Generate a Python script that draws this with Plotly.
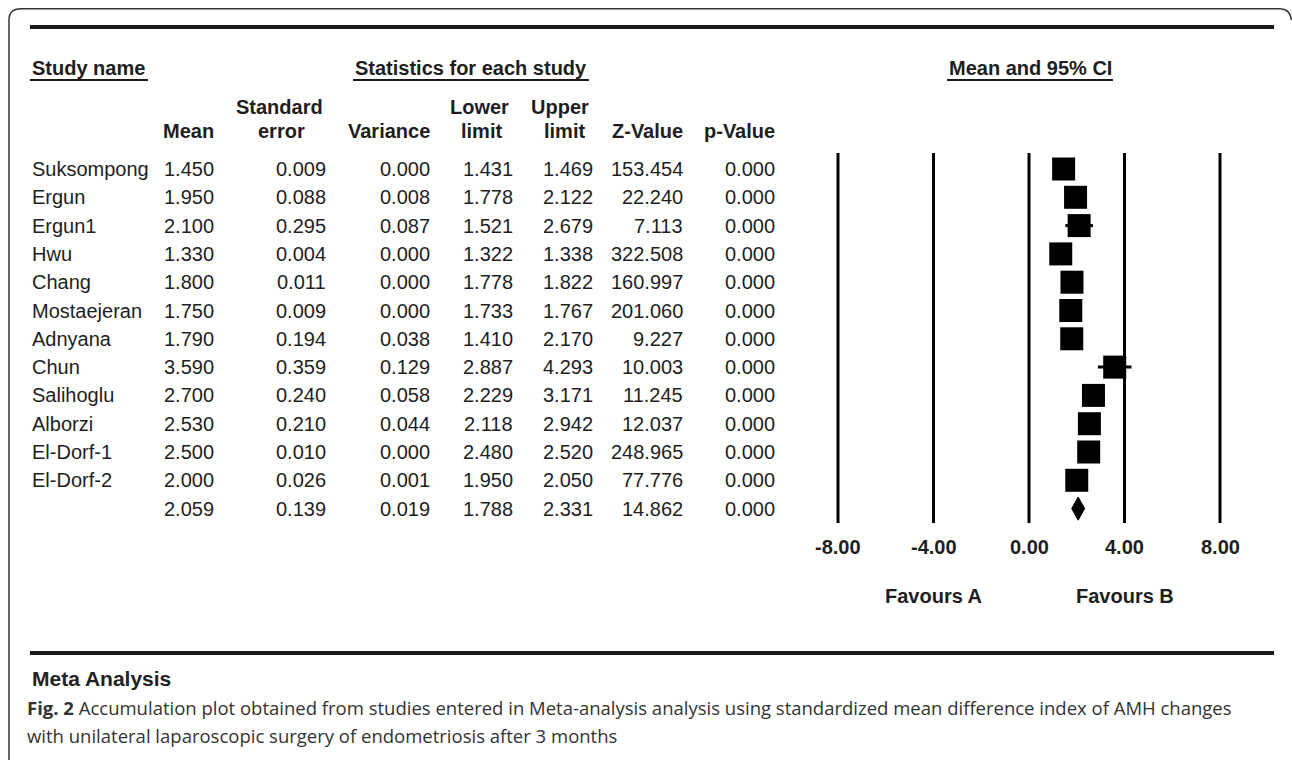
import plotly.graph_objects as go

# ---------------- data ----------------
studies = ["Suksompong", "Ergun", "Ergun1", "Hwu", "Chang", "Mostaejeran", "Adnyana",
           "Chun", "Salihoglu", "Alborzi", "El-Dorf-1", "El-Dorf-2"]
mean = [1.450, 1.950, 2.100, 1.330, 1.800, 1.750, 1.790, 3.590, 2.700, 2.530, 2.500, 2.000]
std_err = [0.009, 0.088, 0.295, 0.004, 0.011, 0.009, 0.194, 0.359, 0.240, 0.210, 0.010, 0.026]
variance = [0.000, 0.008, 0.087, 0.000, 0.000, 0.000, 0.038, 0.129, 0.058, 0.044, 0.000, 0.001]
lower = [1.431, 1.778, 1.521, 1.322, 1.778, 1.733, 1.410, 2.887, 2.229, 2.118, 2.480, 1.950]
upper = [1.469, 2.122, 2.679, 1.338, 1.822, 1.767, 2.170, 4.293, 3.171, 2.942, 2.520, 2.050]
z_value = [153.454, 22.240, 7.113, 322.508, 160.997, 201.060, 9.227, 10.003, 11.245,
           12.037, 248.965, 77.776]
p_value = [0.000] * 12

summary = {"mean": 2.059, "se": 0.139, "var": 0.019, "lower": 1.788, "upper": 2.331,
           "z": 14.862, "p": 0.000}

tick_vals = [-8, -4, 0, 4, 8]
tick_text = ["-8.00", "-4.00", "0.00", "4.00", "8.00"]
favours = [("Favours A", -4), ("Favours B", 4)]

# ---------------- geometry helpers (page pixel coordinates) ----------------
OX, OY = 0, 0                      # body margin removed below
W, H = 1292, 760
X0PX, XSCALE = 1029.0, 23.875      # page pixel of value 0, pixels per unit
Y0PX, YSTEP = 169.0, 28.3          # page pixel of row 0, pixels per row


def PX(x):
    return (x - OX) / W


def PY(y):
    return 1 - (y - OY) / H


def row_of(ypx):
    return (ypx - Y0PX) / YSTEP


ARIAL = "Arial, Liberation Sans, sans-serif"
TXT = "#1e1e1e"

fig = go.Figure()

n = len(studies)
rows = list(range(n))

# error bars (CI) + squares
fig.add_trace(go.Scatter(
    x=mean, y=rows, mode="markers",
    marker=dict(symbol="square", size=23, color="black", line=dict(width=0)),
    error_x=dict(type="data", symmetric=False,
                 array=[u - m for u, m in zip(upper, mean)],
                 arrayminus=[m - l for m, l in zip(mean, lower)],
                 thickness=3, width=0, color="black"),
    hoverinfo="skip", showlegend=False,
))

# summary diamond
hd = 0.41
fig.add_trace(go.Scatter(
    x=[summary["lower"], summary["mean"], summary["upper"], summary["mean"], summary["lower"]],
    y=[n, n - hd, n, n + hd, n],
    mode="lines", fill="toself", fillcolor="black", line=dict(color="black", width=1),
    hoverinfo="skip", showlegend=False,
))

shapes = []
# reference vertical lines
for v in tick_vals:
    shapes.append(dict(type="line", xref="x", yref="y", x0=v, x1=v,
                       y0=row_of(153), y1=row_of(523),
                       line=dict(color="black", width=3), layer="below"))

# frame (right edge falls outside the picture)
shapes.append(dict(type="path", xref="paper", yref="paper",
                   path=f"M {PX(9)},{PY(770)} L {PX(9)},{PY(20)} Q {PX(9)},{PY(8.8)} {PX(21)},{PY(8.8)} "
                        f"L {PX(1280)},{PY(8.8)} Q {PX(1290)},{PY(8.8)} {PX(1291.5)},{PY(20)}",
                   line=dict(color="#333333", width=1.5)))
# thick rules
for ypx in (27, 653):
    shapes.append(dict(type="line", xref="paper", yref="paper",
                       x0=PX(30), x1=PX(1274), y0=PY(ypx), y1=PY(ypx),
                       line=dict(color="#1a1a1a", width=4)))
# header underlines
for xa, xb in ((30, 148), (353, 589), (947, 1113)):
    shapes.append(dict(type="line", xref="paper", yref="paper",
                       x0=PX(xa), x1=PX(xb), y0=PY(80), y1=PY(80),
                       line=dict(color="#1a1a1a", width=2)))

ann = []


def T(text, x, y, anchor="left", size=20, bold=False, color=TXT, family=ARIAL, yref="paper"):
    t = f"<b>{text}</b>" if bold else text
    ann.append(dict(text=t, x=PX(x), y=(PY(y) if yref == "paper" else y),
                    xref="paper", yref=yref, xanchor=anchor, yanchor="middle",
                    showarrow=False, font=dict(family=family, size=size, color=color)))


# headers
T("Study name", 30, 68, bold=True)
T("Statistics for each study", 471, 68, anchor="center", bold=True)
T("Mean and 95% CI", 1030, 68, anchor="center", bold=True)

T("Mean", 216, 131, anchor="right", bold=True)
T("Standard", 279, 107, anchor="center", bold=True)
T("error", 281, 131, anchor="center", bold=True)
T("Variance", 432, 131, anchor="right", bold=True)
T("Lower", 479, 107, anchor="center", bold=True)
T("limit", 482, 131, anchor="center", bold=True)
T("Upper", 560, 107, anchor="center", bold=True)
T("limit", 564, 131, anchor="center", bold=True)
T("Z-Value", 685, 131, anchor="right", bold=True)
T("p-Value", 777, 131, anchor="right", bold=True)

cols = [(mean, 216), (std_err, 328), (variance, 432), (lower, 515), (upper, 595),
        (z_value, 685), (p_value, 777)]
for i in rows:
    T(studies[i], 30, i, yref="y")
    for arr, xr in cols:
        T(f"{arr[i]:.3f}", xr, i, anchor="right", yref="y")
sum_vals = [summary["mean"], summary["se"], summary["var"], summary["lower"],
            summary["upper"], summary["z"], summary["p"]]
for v, (_, xr) in zip(sum_vals, cols):
    T(f"{v:.3f}", xr, n, anchor="right", yref="y")

# axis tick labels and favours
for v, lab in zip(tick_vals, tick_text):
    T(lab, X0PX + v * XSCALE, 547, anchor="center", bold=True)
for lab, v in favours:
    T(lab, X0PX + v * XSCALE, 596, anchor="center", bold=True)

# bottom text
T("Meta Analysis", 30, 678, bold=True, size=21, color="#222222")
CAP = "Open Sans, Noto Sans, sans-serif"
T("<b>Fig. 2</b> Accumulation plot obtained from studies entered in Meta-analysis analysis using "
  "standardized mean difference index of AMH changes", 25, 707, size=18.5, color="#333333", family=CAP)
T("with unilateral laparoscopic surgery of endometriosis after 3 months", 25, 735, size=18.5,
  color="#333333", family=CAP)

fig.update_layout(
    width=W, height=H, margin=dict(l=0, r=0, t=0, b=0),
    paper_bgcolor="white", plot_bgcolor="white",
    xaxis=dict(range=[(OX - X0PX) / XSCALE, (OX + W - X0PX) / XSCALE],
               visible=False, fixedrange=True),
    yaxis=dict(range=[row_of(OY + H), row_of(OY)], visible=False, fixedrange=True),
    shapes=shapes, annotations=ann, showlegend=False,
)

fig.write_html("out.html", config={"displayModeBar": False},
               post_script="document.body.style.margin='0';document.body.style.overflow='hidden';")
